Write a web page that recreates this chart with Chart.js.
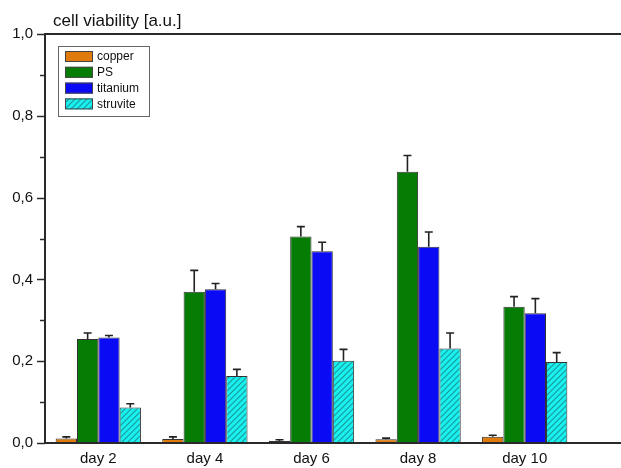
<!DOCTYPE html>
<html>
<head>
<meta charset="utf-8">
<script src="https://cdn.jsdelivr.net/npm/chart.js@4"></script>
<style>
  html, body { margin: 0; padding: 0; background: #fff; overflow: hidden; }
  #wrap { width: 621px; height: 468px; position: relative; }
</style>
</head>
<body>
<div id="wrap"><canvas id="chart"></canvas></div>
<script>
// categories
const days = ["day 2", "day 4", "day 6", "day 8", "day 10"];
// series values (mean) and upper error
const copper = [0.011, 0.010, 0.005, 0.009, 0.015];
const copperErr = [0.004, 0.005, 0.003, 0.003, 0.004];
const ps = [0.254, 0.370, 0.505, 0.663, 0.333];
const psErr = [0.015, 0.052, 0.024, 0.040, 0.025];
const titanium = [0.258, 0.376, 0.469, 0.480, 0.317];
const titaniumErr = [0.005, 0.014, 0.022, 0.036, 0.036];
const struvite = [0.087, 0.164, 0.201, 0.231, 0.198];
const struviteErr = [0.009, 0.016, 0.028, 0.038, 0.023];
// y ticks
const yTicks = [0, 0.2, 0.4, 0.6, 0.8, 1.0];

const FONT = "'Liberation Sans', Arial, sans-serif";

//hatch pattern for struvite
function makeHatch() {
  const c = document.createElement("canvas");
  c.width = 6; c.height = 6;
  const g = c.getContext("2d");
  g.fillStyle = "#19f0f0";
  g.fillRect(0, 0, 6, 6);
  g.strokeStyle = "#1a9a9a";
  g.lineWidth = 1.2;
  g.beginPath();
  g.moveTo(0, 6); g.lineTo(6, 0);
  g.moveTo(-3, 3); g.lineTo(3, -3);
  g.moveTo(3, 9); g.lineTo(9, 3);
  g.stroke();
  return g.createPattern(c, "repeat");
}
const hatch = makeHatch();

const errors = [copperErr, psErr, titaniumErr, struviteErr];

//draws axes lines, ticks, error bars, legend and title
const extras = {
  id: "extras",
  afterDatasetsDraw(chart) {
    const ctx = chart.ctx;
    const y = chart.scales.y;
    const area = chart.chartArea;
    ctx.save();
    // error bars
    ctx.strokeStyle = "#222";
    ctx.lineWidth = 1.6;
    chart.data.datasets.forEach((ds, i) => {
      const meta = chart.getDatasetMeta(i);
      meta.data.forEach((bar, j) => {
        const top = y.getPixelForValue(ds.data[j] + errors[i][j]);
        ctx.beginPath();
        ctx.moveTo(bar.x, bar.y);
        ctx.lineTo(bar.x, top);
        ctx.moveTo(bar.x - 4, top);
        ctx.lineTo(bar.x + 4, top);
        ctx.stroke();
      });
    });
    // axis lines (run to the edge of the picture)
    ctx.strokeStyle = "#2a2a2a";
    ctx.lineWidth = 2;
    ctx.beginPath();
    ctx.moveTo(area.left, area.top);
    ctx.lineTo(chart.width, area.top);
    ctx.moveTo(area.left, area.bottom);
    ctx.lineTo(chart.width, area.bottom);
    ctx.moveTo(area.left, area.top - 1);
    ctx.lineTo(area.left, area.bottom + 1);
    ctx.stroke();
    // y ticks, major and minor
    ctx.lineWidth = 1.5;
    for (let v = 0; v <= 10; v++) {
      const py = Math.round(y.getPixelForValue(v / 10)) + 0.5;
      const len = v % 2 === 0 ? 8 : 5;
      ctx.beginPath();
      ctx.moveTo(area.left - len, py);
      ctx.lineTo(area.left, py);
      ctx.stroke();
    }
    // title
    ctx.fillStyle = "#111";
    ctx.font = "17px " + FONT;
    ctx.textBaseline = "alphabetic";
    ctx.textAlign = "left";
    ctx.fillText("cell viability [a.u.]", 53, 26);
    // legend
    ctx.lineWidth = 1;
    ctx.strokeStyle = "#666";
    ctx.strokeRect(58.5, 46.5, 91, 70);
    ctx.font = "12px " + FONT;
    ctx.textBaseline = "middle";
    chart.data.datasets.forEach((ds, i) => {
      const ry = 51 + i * 15.8;
      ctx.fillStyle = ds.backgroundColor;
      ctx.fillRect(65, ry, 28, 11);
      ctx.strokeStyle = "#444";
      ctx.strokeRect(65.5, ry + 0.5, 27, 10);
      ctx.fillStyle = "#111";
      ctx.fillText(ds.label, 97, ry + 6);
    });
    ctx.restore();
  },
};

new Chart(document.getElementById("chart"), {
  type: "bar",
  plugins: [extras],
  data: {
    labels: days,
    datasets: [
      { label: "copper", data: copper, backgroundColor: "#e07a0c" },
      { label: "PS", data: ps, backgroundColor: "#057d05" },
      { label: "titanium", data: titanium, backgroundColor: "#0a0af5" },
      { label: "struvite", data: struvite, backgroundColor: hatch },
    ].map(d => Object.assign(d, {
      borderColor: "#333",
      borderWidth: 1,
      barPercentage: 1.0,
      categoryPercentage: 0.8,
    })),
  },
  options: {
    responsive: true,
    maintainAspectRatio: false,
    animation: false,
    layout: { padding: { top: 34, right: 43, left: 0, bottom: 0 } },
    plugins: {
      legend: { display: false },
      tooltip: { enabled: false },
    },
    scales: {
      x: {
        grid: { display: false, drawTicks: false },
        border: { display: false },
        ticks: { color: "#111", font: { family: FONT, size: 15 }, padding: 7, maxRotation: 0 },
        afterFit: s => { s.height = 25; },
      },
      y: {
        min: 0,
        max: 1,
        afterBuildTicks: s => { s.ticks = yTicks.map(v => ({ value: v })); },
        grid: { display: false, drawTicks: false },
        border: { display: false },
        ticks: {
          color: "#111",
          font: { family: FONT, size: 15 },
          padding: 12,
          callback: v => v.toFixed(1).replace(".", ","),
        },
        afterFit: s => { s.width = 45; },
      },
    },
  },
});
</script>
</body>
</html>
